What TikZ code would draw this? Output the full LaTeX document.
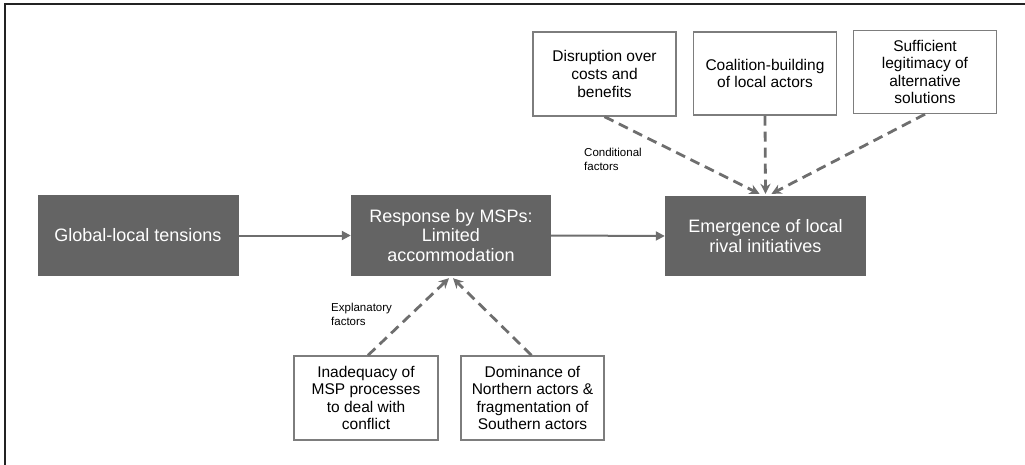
\documentclass[tikz,border=0pt]{standalone}
\usepackage{fontspec}
\setmainfont{Liberation Sans}
\usetikzlibrary{arrows.meta}
\definecolor{darkbox}{RGB}{100,100,100}
\definecolor{linegray}{RGB}{110,110,110}
\definecolor{bordergray}{RGB}{125,125,125}
\definecolor{framec}{RGB}{35,35,35}
\tikzset{
  mainbox/.style={fill=darkbox, draw=none, text=white, align=center,
    inner sep=0pt, font=\fontsize{18}{19.5}\selectfont},
  factorbox/.style={fill=white, draw=bordergray, line width=1.4pt, text=black,
    align=center, inner sep=0pt, font=\fontsize{15.5}{17.6}\selectfont},
  smalllabel/.style={align=left, anchor=west, inner sep=0pt,
    font=\fontsize{11.5}{14.5}\selectfont},
  flow/.style={draw=linegray, line width=2pt, -{Triangle[length=9pt,width=9pt]}},
  dasharrow/.style={draw=linegray, line width=2.8pt, dash pattern=on 10pt off 6pt,
    -{Stealth[length=10pt,width=10pt]}},
}
\begin{document}
\begin{tikzpicture}[x=1pt,y=-1pt]
\useasboundingbox (0,0) rectangle (1025,465);
% frame
\draw[framec, line width=1.6pt] (5,465) -- (5,4) -- (1025,4);

% main boxes
\node[mainbox, minimum width=201pt, minimum height=81pt] (g) at (138,235.5) {Global-local tensions};
\node[mainbox, minimum width=200pt, minimum height=81pt] (r) at (451,235.5) {Response by MSPs:\\Limited\\accommodation};
\node[mainbox, minimum width=201pt, minimum height=80pt] (e) at (765.5,236) {Emergence of local\\rival initiatives};

% conditional factor boxes
\node[factorbox, minimum width=143pt, minimum height=84pt] (d) at (604.5,74) {Disruption over\\costs and\\benefits};
\node[factorbox, minimum width=143pt, minimum height=83pt] (c) at (765,73.5) {Coalition-building\\of local actors};
\node[factorbox, minimum width=143pt, minimum height=83pt] (s) at (925,72) {Sufficient\\legitimacy of\\alternative\\solutions};

% explanatory factor boxes
\node[factorbox, minimum width=144pt, minimum height=84pt] (i) at (366,398) {Inadequacy of\\MSP processes\\to deal with\\conflict};
\node[factorbox, minimum width=143pt, minimum height=84pt] (m) at (532.5,398) {Dominance of\\Northern actors \&\\fragmentation of\\Southern actors};

% labels
\node[smalllabel] (cl) at (584,159.5) {Conditional\\factors};
\node[smalllabel] (xl) at (331,314.5) {Explanatory\\factors};

% flow arrows
\draw[flow] (g.east) -- (r.west);
\draw[flow] (r.east) -- (e.west);

% dashed arrows
\draw[dasharrow] (d.south) -- ([xshift=-6pt,yshift=2pt]e.north);
\draw[dasharrow] (c.south) -- ([yshift=2pt]e.north);
\draw[dasharrow] (s.south) -- ([xshift=6pt,yshift=2pt]e.north);
\draw[dasharrow] ([xshift=2pt]i.north) -- ([xshift=-2pt,yshift=-2pt]r.south);
\draw[dasharrow] ([xshift=-1pt]m.north) -- ([xshift=2pt,yshift=-2pt]r.south);
\end{tikzpicture}
\end{document}
